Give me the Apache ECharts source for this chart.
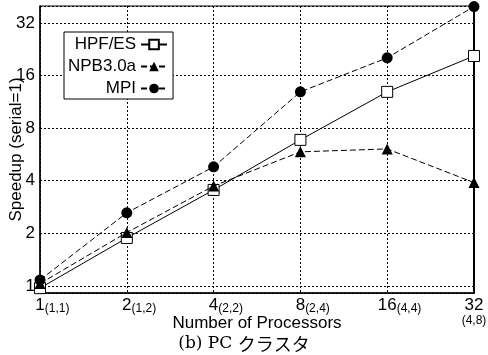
<!DOCTYPE html>
<html>
<head>
<meta charset="utf-8">
<script src="https://cdn.jsdelivr.net/npm/echarts@6/dist/echarts.min.js"></script>
<style>
  html, body { margin: 0; padding: 0; background: #fff; }
  #chart { width: 488px; height: 355px; }
</style>
</head>
<body>
<div id="chart"></div>
<script>
// Processor counts and their (row,col) process grids
const processors = [1, 2, 4, 8, 16, 32];
const gridShapes = ['(1,1)', '(1,2)', '(2,2)', '(2,4)', '(4,4)', '(4,8)'];
const yTickValues = [1, 2, 4, 8, 16, 32];

// Measured speedups (serial = 1)
const hpfEs   = [0.97, 1.88, 3.54, 6.85, 12.9, 20.7];
const npb30a  = [1.03, 2.02, 3.73, 5.85, 6.08, 3.9];
const mpi     = [1.08, 2.62, 4.8, 12.9, 20.2, 39.7];

const FONT = '"Liberation Sans", Arial, sans-serif';

const pairs = arr => processors.map((p, i) => [p, arr[i]]);

const chart = echarts.init(document.getElementById('chart'), null, { renderer: 'canvas' });

chart.setOption({
  animation: false,
  backgroundColor: '#fff',
  grid: {
    left: 40, right: 14, top: 6, bottom: 62,
    containLabel: false, outerBoundsMode: 'none',
    show: true, borderColor: '#000', borderWidth: 1, backgroundColor: 'transparent'
  },
  legend: {
    left: 64, top: 32,
    orient: 'vertical',
    align: 'right',
    padding: [4, 5, 2, 4],
    itemGap: 5,
    itemWidth: 26, itemHeight: 12,
    backgroundColor: '#fff',
    borderColor: '#000', borderWidth: 1, borderRadius: 0,
    textStyle: { fontFamily: FONT, fontSize: 17, color: '#000' },
    data: ['HPF/ES', 'NPB3.0a', 'MPI']
  },
  xAxis: {
    type: 'log', logBase: 2, min: 1, max: 32,
    name: 'Number of Processors',
    nameLocation: 'middle', nameGap: 22, nameMoveOverlap: false,
    nameTextStyle: { fontFamily: FONT, fontSize: 17, color: '#000' },
    axisLine: { lineStyle: { color: '#000', width: 1.5 } },
    axisTick: { show: false },
    splitLine: { show: true, lineStyle: { color: '#000', width: 1, type: [2, 2] } },
    axisLabel: {
      margin: 3,
      color: '#000',
      formatter: v => {
        const i = processors.indexOf(Math.round(v));
        if (i < 0) return '';
        if (i === processors.length - 1) return '{n|' + processors[i] + '}\n{c|' + gridShapes[i] + '}';
        return '{g|' + gridShapes[i] + '}{n|' + processors[i] + '}{s|' + gridShapes[i] + '}';
      },
      rich: {
        n: { fontFamily: FONT, fontSize: 17, color: '#000', lineHeight: 18 },
        s: { fontFamily: FONT, fontSize: 12, color: '#000', lineHeight: 18, padding: [7, 0, 0, 0] },
        g: { fontFamily: FONT, fontSize: 12, color: 'rgba(0,0,0,0)', lineHeight: 18, padding: [7, 0, 0, 0] },
        c: { fontFamily: FONT, fontSize: 12, color: '#000', lineHeight: 13 }
      }
    }
  },
  yAxis: [{
    type: 'log', logBase: 2, min: 0.91, max: 40,
    name: 'Speedup (serial=1)',
    nameLocation: 'middle', nameGap: 15, nameMoveOverlap: false,
    nameTextStyle: { fontFamily: FONT, fontSize: 17, color: '#000' },
    axisLine: { lineStyle: { color: '#000', width: 1.5 } },
    axisTick: { show: false },
    splitLine: { show: true, lineStyle: { color: '#000', width: 1, type: [2, 2] } },
    axisLabel: {
      margin: 5,
      showMinLabel: false, showMaxLabel: false,
      fontFamily: FONT, fontSize: 17, color: '#000',
      formatter: v => {
        const r = Math.round(v);
        return yTickValues.includes(r) && Math.abs(v - r) < 0.01 ? String(r) : '';
      }
    }
  }, {
    type: 'log', logBase: 2, min: 0.91, max: 40,
    position: 'right',
    axisLine: { show: true, lineStyle: { color: '#000', width: 2 } },
    axisTick: { show: false },
    axisLabel: { show: false },
    splitLine: { show: false }
  }],
  series: [{
    name: 'HPF/ES', type: 'line', data: pairs(hpfEs),
    symbol: 'rect', symbolSize: 11,
    itemStyle: { color: '#fff', borderColor: '#000', borderWidth: 1 },
    lineStyle: { color: '#000', width: 1, type: 'solid' },
    z: 3
  }, {
    name: 'NPB3.0a', type: 'line', data: pairs(npb30a),
    symbol: 'triangle', symbolSize: 11,
    itemStyle: { color: '#000', borderColor: '#000', borderWidth: 0 },
    lineStyle: { color: '#000', width: 1, type: [6, 3] },
    z: 4
  }, {
    name: 'MPI', type: 'line', data: pairs(mpi),
    symbol: 'circle', symbolSize: 11,
    itemStyle: { color: '#000', borderColor: '#000', borderWidth: 0 },
    lineStyle: { color: '#000', width: 1, type: [6, 3] },
    z: 5
  }],
  title: {
    left: 'center', top: 335,
    padding: 0,
    text: '{a|(b) PC }{b|クラスタ}',
    textStyle: {
      fontWeight: 'normal',
      rich: {
        a: { fontFamily: '"DejaVu Serif", "Liberation Serif", serif', fontSize: 17, fontWeight: 'normal', color: '#000' },
        b: { fontFamily: '"Noto Sans CJK JP", sans-serif', fontSize: 18, fontWeight: 'normal', color: '#000' }
      }
    }
  }
});
</script>
</body>
</html>
